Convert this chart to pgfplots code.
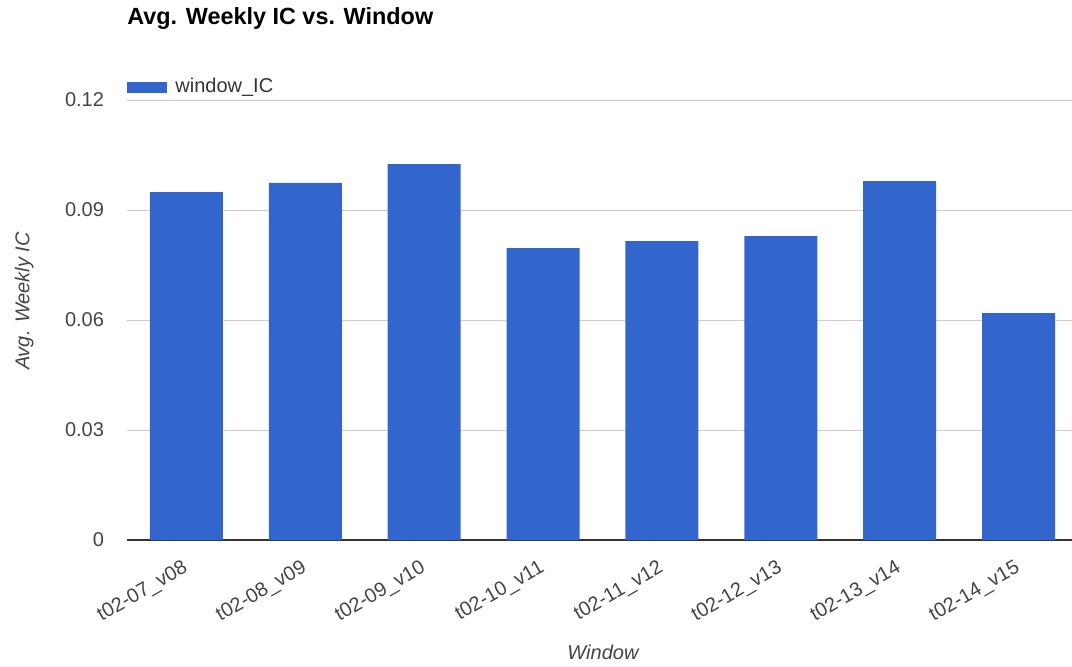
\documentclass[border=0pt]{standalone}
\usepackage{pgfplots}
\pgfplotsset{compat=1.18}
\usepackage{fontspec}
\setmainfont{Liberation Sans}
\definecolor{barblue}{HTML}{3366CC}
\definecolor{gridgray}{HTML}{CCCCCC}
\definecolor{ticktext}{HTML}{444444}
\definecolor{basegray}{HTML}{333333}
\begin{document}
\begin{tikzpicture}
\useasboundingbox (0,0) rectangle (536pt,333pt);
\begin{axis}[
  at={(63.5pt,63pt)}, anchor=south west,
  scale only axis,
  width=475.5pt, height=220pt,
  xmin=-0.5, xmax=7.5,
  ymin=0, ymax=0.12,
  ybar, bar width=36.5pt,
  axis line style={draw=none},
  major tick length=0pt,
  xtick={0,...,7},
  xticklabels={t02-07\_v08,t02-08\_v09,t02-09\_v10,t02-10\_v11,t02-11\_v12,t02-12\_v13,t02-13\_v14,t02-14\_v15},
  xticklabel style={xshift=-2pt, yshift=-8pt, rotate=30, anchor=north east, font=\fontsize{10pt}{12pt}\selectfont, text=ticktext, inner sep=1pt},
  ytick={0.03,0.06,0.09,0.12},
  yticklabels={0.03,0.06,0.09,0.12},
  extra y ticks={0},
  extra y tick labels={0},
  extra y tick style={major grid style={draw=basegray, line width=0.6pt}},
  yticklabel style={font=\fontsize{10pt}{12pt}\selectfont, text=ticktext, xshift=-8pt},
  ymajorgrids,
  major grid style={draw=gridgray, line width=0.5pt},
  /pgf/number format/assume math mode=true,
  xlabel={\itshape Window},
  xlabel style={at={(axis description cs:0.5005,-0.2545)}, anchor=center, font=\fontsize{10pt}{12pt}\selectfont, text=ticktext},
  ylabel={\itshape Avg. Weekly IC},
  ylabel style={at={(axis description cs:-0.108,0.543)}, anchor=center, rotate=0, font=\fontsize{10pt}{12pt}\selectfont, text=ticktext},
  title={\bfseries Avg. Weekly IC vs. Window},
  title style={at={(axis description cs:0,1.157)}, anchor=west, inner sep=0pt, font=\fontsize{11.7pt}{14pt}\selectfont, text=black},
  legend style={at={(axis description cs:0,1.0295)}, anchor=west, draw=none, fill=none, inner sep=0pt, font=\fontsize{10pt}{12pt}\selectfont, text=basegray, legend cell align=left, nodes={inner sep=0pt}},
  legend image code/.code={\fill[barblue] (0pt,-2.75pt) rectangle (20pt,2.75pt);},
  legend style={/tikz/every even column/.append style={column sep=4pt}},
]
\addplot[fill=barblue, draw=none] coordinates {
  (0,0.0949) (1,0.0974) (2,0.1025) (3,0.0796) (4,0.0815) (5,0.0829) (6,0.0979) (7,0.0619)
};
\addlegendentry{\hspace{4pt}window\_IC}
\end{axis}
\end{tikzpicture}
\end{document}
